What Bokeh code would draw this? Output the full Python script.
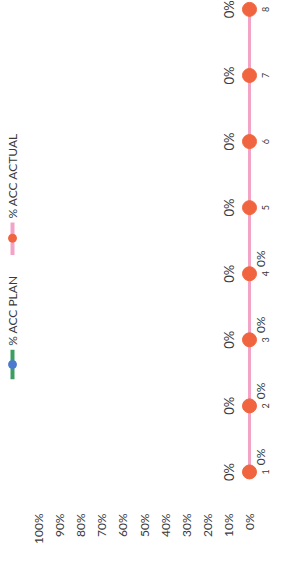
import math
from bokeh.plotting import figure
from bokeh.models import Range1d, NumeralTickFormatter, FixedTicker
from bokeh.core.properties import value
from bokeh.embed import file_html
from bokeh.resources import INLINE

# ---------------- data ----------------
categories = [1, 2, 3, 4, 5, 6, 7, 8]
category_labels = ["1", "2", "3", "4", "5", "6", "7", "8"]
acc_actual = [0.0, 0.0, 0.0, 0.0, 0.0, 0.0, 0.0, 0.0]
plan_categories = [1, 2, 3, 4]
acc_plan = [0.0, 0.0, 0.0, 0.0]
value_ticks = [0.0, 0.1, 0.2, 0.3, 0.4, 0.5, 0.6, 0.7, 0.8, 0.9, 1.0]
legend_labels = ["% ACC PLAN", "% ACC ACTUAL"]

# ---------------- layout (chart is drawn rotated 90 deg) ----------------
W, H = 270, 546
ZERO_PX, FULL_PX = 249, 38        # canvas x of 0% and 100%
TOP_CAT_PX, BOTTOM_CAT_PX = 9, 478  # canvas y of last / first category
AXIS_H = 34
FONT = "Lato"
TXT = "#3A3A3A"
PINK = "#F2A3C6"
ORANGE = "#F0653F"
GREEN = "#3E9E62"
BLUE = "#4A7BD0"
ROT = math.pi / 2


def xv(px):
    return (ZERO_PX - px) / (ZERO_PX - FULL_PX)


def yv(py):
    return 1 + (BOTTOM_CAT_PX - py) / ((BOTTOM_CAT_PX - TOP_CAT_PX) / 7.0)


p = figure(width=W, height=H, output_backend="svg", toolbar_location=None,
           x_range=Range1d(xv(0), xv(W)), y_range=Range1d(yv(H - AXIS_H), yv(0)),
           min_border_left=0, min_border_right=0, min_border_top=0,
           min_border_bottom=AXIS_H, y_axis_location=None,
           outline_line_color=None, background_fill_color="white",
           border_fill_color="white")

p.xaxis.ticker = FixedTicker(ticks=value_ticks)
p.xaxis.formatter = NumeralTickFormatter(format="0%")
p.xaxis.major_label_orientation = ROT
p.xaxis.axis_line_color = None
p.xaxis.major_tick_line_color = None
p.xaxis.minor_tick_line_color = None
p.xaxis.major_label_standoff = 2
p.xaxis.major_label_text_font = FONT
p.xaxis.major_label_text_font_size = "12px"
p.xaxis.major_label_text_color = TXT
p.grid.visible = False

# plan series (underneath)
p.line(x=acc_plan, y=plan_categories, line_color=GREEN, line_width=3)
p.scatter(x=acc_plan, y=plan_categories, size=10, fill_color=BLUE, line_color=BLUE)
# actual series
p.line(x=acc_actual, y=categories, line_color=PINK, line_width=3)
p.scatter(x=acc_actual, y=categories, size=14, fill_color=ORANGE, line_color=ORANGE)

# data labels
p.text(x=acc_actual, y=categories, text=[f"{v:.0%}" for v in acc_actual],
       angle=ROT, x_offset=-21, text_align="center", text_baseline="middle",
       text_font=value(FONT), text_font_size="13px", text_color=TXT)
p.text(x=acc_plan, y=plan_categories, text=[f"{v:.0%}" for v in acc_plan],
       angle=ROT, x_offset=11, y_offset=-15, text_align="center", text_baseline="middle",
       text_font=value(FONT), text_font_size="12px", text_color=TXT)

# category labels
p.text(x=[0.0] * len(categories), y=categories, text=category_labels,
       angle=ROT, x_offset=16, text_align="center", text_baseline="middle",
       text_font=value(FONT), text_font_size="9px", text_color=TXT)

# legend (rotated)
LX = xv(12)
p.segment(x0=[LX], y0=[yv(384)], x1=[LX], y1=[yv(354)], line_color=GREEN, line_width=4)
p.scatter(x=[LX], y=[yv(369)], size=8, fill_color=BLUE, line_color=BLUE)
p.segment(x0=[LX], y0=[yv(258)], x1=[LX], y1=[yv(225)], line_color=PINK, line_width=4)
p.scatter(x=[LX], y=[yv(241)], size=8, fill_color=ORANGE, line_color=ORANGE)
p.text(x=[LX, LX], y=[yv(350), yv(221)], text=legend_labels, angle=ROT,
       text_align="left", text_baseline="middle", text_font=value(FONT),
       text_font_size="12px", text_color=TXT)

open("out.html", "w").write(file_html(p, INLINE))
